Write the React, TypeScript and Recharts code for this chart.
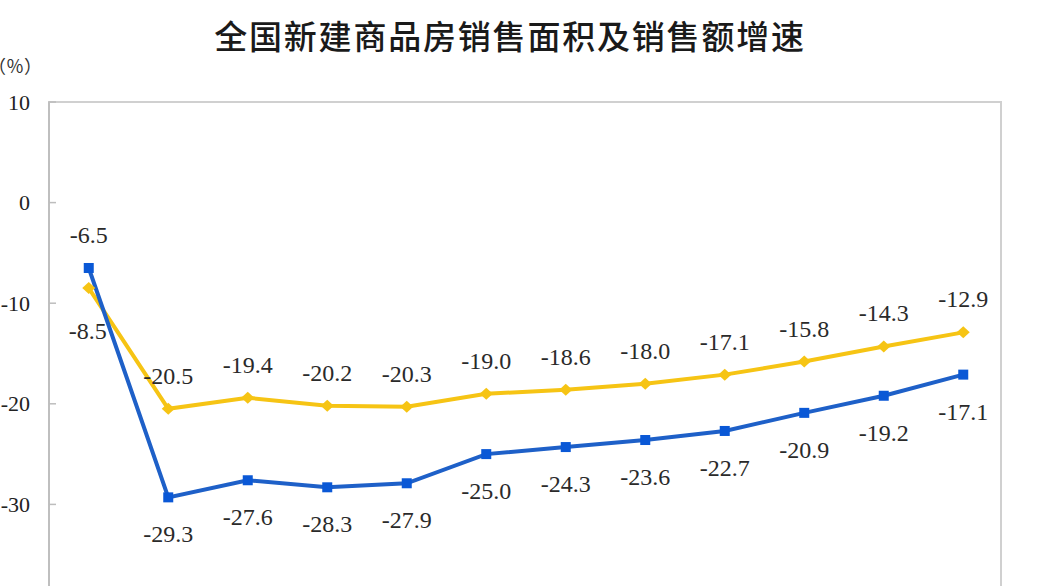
import React from "react";
import { LineChart, Line, XAxis, YAxis, LabelList } from "recharts";

const categories = ["2023年1-12月", "2024年1-2月", "1-3月", "1-4月", "1-5月", "1-6月", "1-7月", "1-8月", "1-9月", "1-10月", "1-11月", "1-12月"];
const salesAmount = [-6.5, -29.3, -27.6, -28.3, -27.9, -25.0, -24.3, -23.6, -22.7, -20.9, -19.2, -17.1];
const salesArea = [-8.5, -20.5, -19.4, -20.2, -20.3, -19.0, -18.6, -18.0, -17.1, -15.8, -14.3, -12.9];
const yTicks = [10, 0, -10, -20, -30, -40];

const data = categories.map((c, i) => ({ name: c, amount: salesAmount[i], area: salesArea[i] }));

const BLUE = "#1e60c8";
const YELLOW = "#f6c414";
const SERIF = "Liberation Serif";

const SquareDot = (props: any) => {
  const { cx, cy } = props;
  if (cx == null || cy == null) return null;
  return <rect x={cx - 5} y={cy - 5} width={10} height={10} fill="#0a58d6" />;
};

const DiamondDot = (props: any) => {
  const { cx, cy } = props;
  if (cx == null || cy == null) return null;
  return <polygon points={`${cx},${cy - 6} ${cx + 6.5},${cy} ${cx},${cy + 6} ${cx - 6.5},${cy}`} fill={YELLOW} />;
};

const makeLabel = (series: "amount" | "area") => (props: any) => {
  const { x, y, value, index } = props;
  let dy: number;
  let dx = 0;
  if (series === "amount") {
    dy = index === 0 ? -33 : 37;
  } else {
    dy = index === 0 ? 43 : -33;
    if (index === 0) dx = -1;
  }
  return (
    <text
      x={x + dx}
      y={y + dy}
      textAnchor="middle"
      dominantBaseline="central"
      fontFamily={SERIF}
      fontSize={24}
      fill="#2a2a2a"
    >
      {Number(value).toFixed(1)}
    </text>
  );
};

const YTick = (props: any) => {
  const { x, y, payload } = props;
  return (
    <g>
      <text x={x} y={y} textAnchor="end" dominantBaseline="central" fontFamily={SERIF} fontSize={22} fill="#222">
        {payload.value}
      </text>
      <line x1={x + 19} x2={x + 26} y1={y} y2={y} stroke="#bdbdbd" strokeWidth={1.5} />
    </g>
  );
};

export default function App() {
  return (
    <div style={{ position: "absolute", left: 0, top: 0, width: 1042, height: 650, background: "#fff", overflow: "hidden" }}>
      <div
        style={{
          position: "absolute",
          left: 0,
          width: 1020,
          top: 15,
          textAlign: "center",
          fontFamily: "'Noto Sans CJK SC', sans-serif",
          fontSize: 33,
          fontWeight: 500,
          letterSpacing: 1.8,
          color: "#1a1a1a",
          lineHeight: "40px",
        }}
      >
        全国新建商品房销售面积及销售额增速
      </div>
      <div
        style={{
          position: "absolute",
          left: -12,
          top: 53,
          fontFamily: "'Noto Sans CJK JP'",
          fontSize: 18,
          color: "#333",
          lineHeight: "24px",
          whiteSpace: "nowrap",
        }}
      >
        （％）
      </div>
      <div
        style={{
          position: "absolute",
          left: 48,
          top: 101,
          width: 954,
          height: 510,
          border: "2px solid #d0d0d0",
          borderLeftColor: "#bfbfbf",
          boxSizing: "border-box",
        }}
      />
      <div style={{ position: "absolute", left: 0, top: 0 }}>
        <LineChart width={1042} height={640} data={data} margin={{ top: 102, right: 39, left: 0, bottom: 5 }}>
          <XAxis
            dataKey="name"
            scale="point"
            padding={{ left: 39.75, right: 39.75 }}
            axisLine={false}
            tickLine={false}
            height={30}
            tick={{ fontFamily: SERIF, fontSize: 16, fill: "#222" }}
          />
          <YAxis
            domain={[-40, 10]}
            ticks={yTicks}
            width={49}
            interval={0}
            tickLine={false}
            tickSize={0}
            tickMargin={19}
            axisLine={false}
            tick={<YTick />}
          />
          <Line
            dataKey="area"
            stroke={YELLOW}
            strokeWidth={4}
            dot={<DiamondDot />}
            activeDot={false}
            isAnimationActive={false}
          >
            <LabelList dataKey="area" content={makeLabel("area")} />
          </Line>
          <Line
            dataKey="amount"
            stroke={BLUE}
            strokeWidth={4}
            dot={<SquareDot />}
            activeDot={false}
            isAnimationActive={false}
          >
            <LabelList dataKey="amount" content={makeLabel("amount")} />
          </Line>
        </LineChart>
      </div>
    </div>
  );
}
